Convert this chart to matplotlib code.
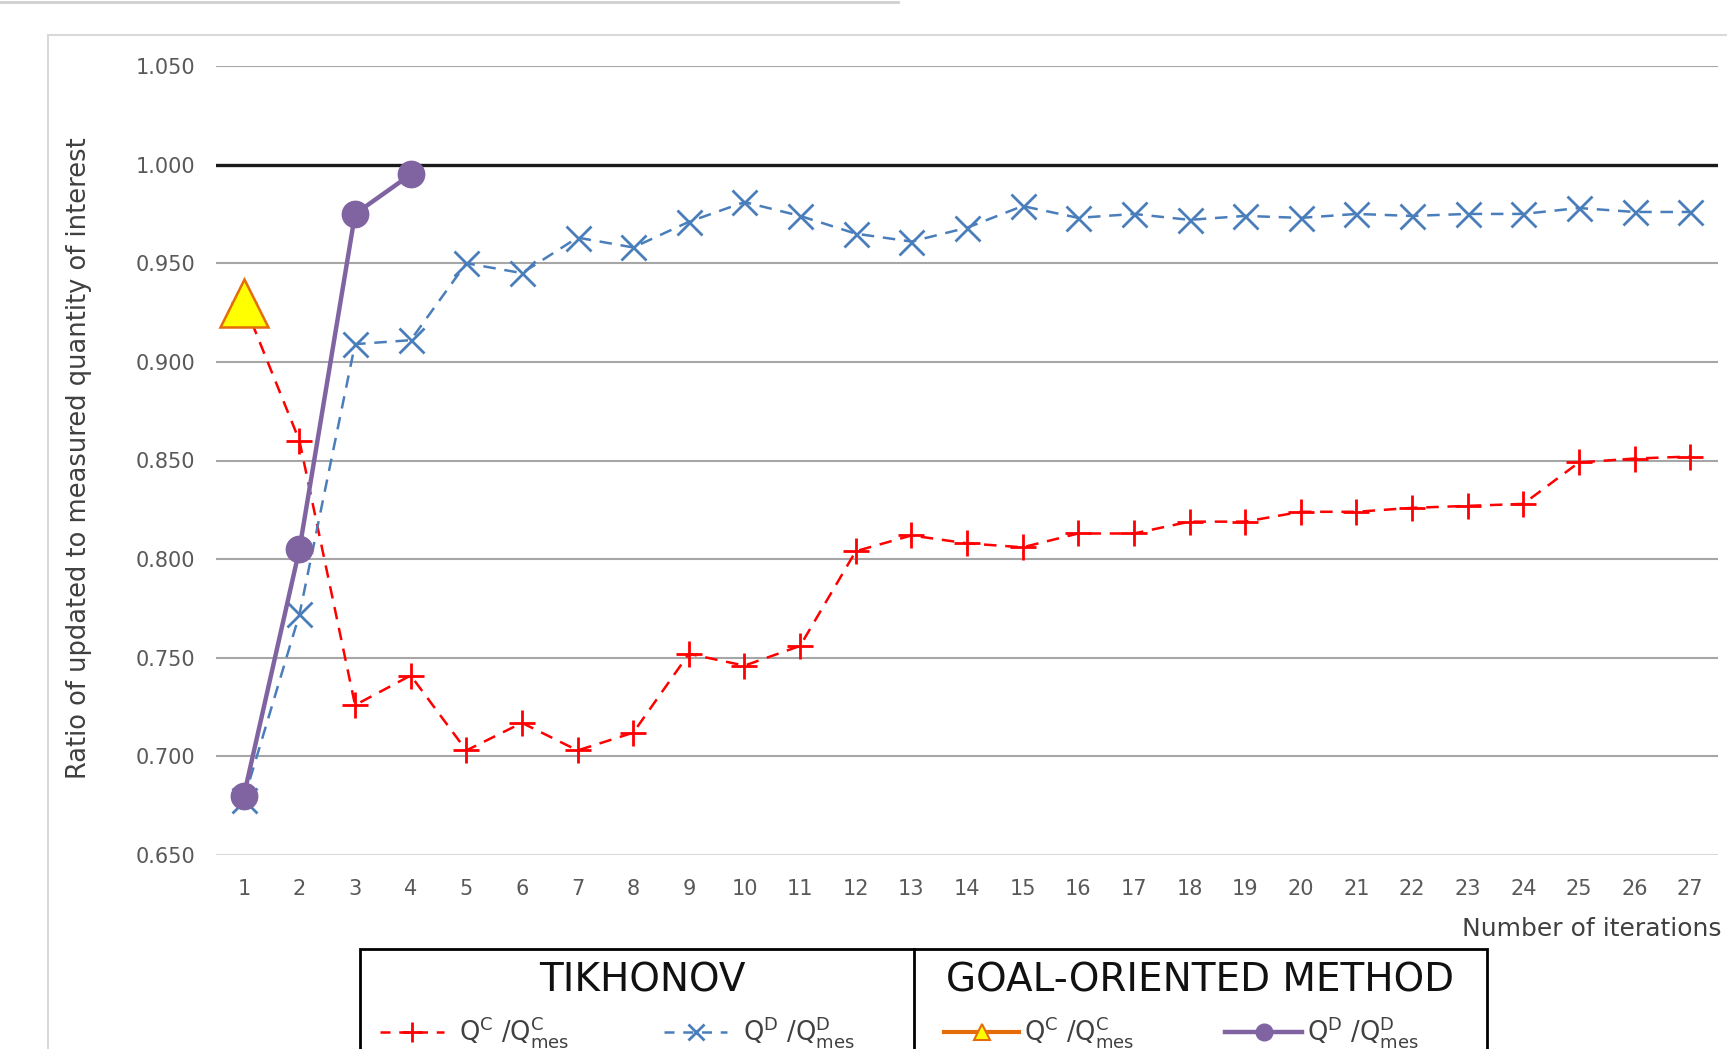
import matplotlib
matplotlib.use("Agg")
import matplotlib.pyplot as plt
from matplotlib.lines import Line2D
from matplotlib.patches import Rectangle

W, H = 1727, 1049

iterations = list(range(1, 28))
tik_qc = [0.930, 0.860, 0.726, 0.741, 0.703, 0.717, 0.703, 0.712, 0.752, 0.746,
          0.756, 0.804, 0.812, 0.808, 0.806, 0.813, 0.813, 0.819, 0.819, 0.824,
          0.824, 0.826, 0.827, 0.828, 0.849, 0.851, 0.852]
tik_qd = [0.678, 0.772, 0.909, 0.911, 0.950, 0.945, 0.963, 0.958, 0.971, 0.981,
          0.974, 0.965, 0.961, 0.968, 0.979, 0.973, 0.975, 0.972, 0.974, 0.973,
          0.975, 0.974, 0.975, 0.975, 0.978, 0.976, 0.976]
goal_iter_c = [1]
goal_qc = [0.930]
goal_iter_d = [1, 2, 3, 4]
goal_qd = [0.680, 0.805, 0.975, 0.995]
yticks = [0.650, 0.700, 0.750, 0.800, 0.850, 0.900, 0.950, 1.000, 1.050]
ytick_labels = ["0.650", "0.700", "0.750", "0.800", "0.850", "0.900", "0.950", "1.000", "1.050"]
ylabel = "Ratio of updated to measured quantity of interest"
xlabel = "Number of iterations"
group_titles = ["TIKHONOV", "GOAL-ORIENTED METHOD"]

RED = "#FF0000"
BLUE = "#4A7EBB"
ORANGE = "#E46C0A"
PURPLE = "#8064A2"
TXT = "#404040"


def fx(x):
    return x / W


def fy(y):
    return 1 - y / H


fig = plt.figure(figsize=(W / 100, H / 100), dpi=100)
fig.patch.set_facecolor("white")

# outer frame / screenshot artefacts
fig.add_artist(Line2D([fx(0), fx(898)], [fy(1.5), fy(1.5)], color="#D0D0D0", lw=2,
                      transform=fig.transFigure))
fig.add_artist(Rectangle((fx(48), -0.05), 1.2, fy(35) + 0.05, fill=False,
                         edgecolor="#D9D9D9", lw=1.5, transform=fig.transFigure))

ax = fig.add_axes([fx(216), fy(855), fx(1718) - fx(216), fy(66) - fy(855)])
ax.set_xlim(0.5, 27.5)
ax.set_ylim(0.650, 1.050)
for s in ax.spines.values():
    s.set_visible(False)

grid_colors = ["#D9D9D9"] + ["#A6A6A6"] * 6 + ["#1A1A1A", "#A6A6A6"]
grid_lw = [1.5] * 7 + [2.4, 1.5]
for v, c, lw in zip(yticks, grid_colors, grid_lw):
    ax.axhline(v, color=c, lw=lw, zorder=1)

ax.set_yticks(yticks)
ax.set_yticklabels(ytick_labels)
ax.set_xticks(iterations)
ax.set_xticklabels([str(i) for i in iterations])
ax.tick_params(axis="both", length=0, labelsize=15, labelcolor="#595959")
ax.tick_params(axis="y", pad=15)
ax.tick_params(axis="x", pad=17)

ax.plot(iterations, tik_qc, color=RED, lw=1.8, dashes=(5, 3.5), marker="+",
        markersize=19, mew=2, zorder=3)
ax.plot(iterations, tik_qd, color=BLUE, lw=1.8, dashes=(5, 3.5), marker="x",
        markersize=18, mew=2, zorder=3)
ax.plot(goal_iter_c, goal_qc, color=ORANGE, lw=3, marker="^", markersize=34,
        markerfacecolor="#FFFF00", markeredgecolor=ORANGE, mew=1.8, zorder=5)
ax.plot(goal_iter_d, goal_qd, color=PURPLE, lw=3.2, marker="o", markersize=19,
        zorder=4)

fig.text(fx(79), fy(458), ylabel, rotation=90, ha="center", va="center",
         fontsize=18.5, color=TXT)
fig.text(fx(1462), fy(929), xlabel, ha="left", va="center", fontsize=18,
         color=TXT)

# legend table
fig.add_artist(Rectangle((fx(360), -0.05), fx(1487) - fx(360), fy(949) + 0.05,
                         fill=False, edgecolor="black", lw=2, transform=fig.transFigure))
fig.add_artist(Line2D([fx(914), fx(914)], [fy(949), -0.05], color="black", lw=2,
                      transform=fig.transFigure))
fig.text(fx(642), fy(981), group_titles[0], ha="center", va="center", fontsize=28,
         color="#111111")
fig.text(fx(1200), fy(981), group_titles[1], ha="center", va="center", fontsize=28,
         color="#111111")

lbl_c = r"Q$^{\mathregular{C}}$ /Q$^{\mathregular{C}}_{\mathregular{mes}}$"
lbl_d = r"Q$^{\mathregular{D}}$ /Q$^{\mathregular{D}}_{\mathregular{mes}}$"
ly = fy(1032)
entries = [
    (380, 444, 459, RED, (4, 3.5), "+", 14, dict(mew=2), 1.8, lbl_c),
    (664, 727, 743, BLUE, (4, 3.5), "x", 11, dict(mew=2), 1.8, lbl_d),
    (944, 1019, 1024, ORANGE, None, "^", 12,
     dict(markerfacecolor="#FFFF00", markeredgecolor=ORANGE, mew=1.5), 3, lbl_c),
    (1225, 1302, 1307, PURPLE, None, "o", 12, dict(), 3.2, lbl_d),
]
for x0, x1, xt, col, dsh, mk, ms, kw, lw, lbl in entries:
    ln = Line2D([fx(x0), fx(x1)], [ly, ly], color=col, lw=lw, transform=fig.transFigure)
    if dsh:
        ln.set_dashes(dsh)
    fig.add_artist(ln)
    fig.add_artist(Line2D([(fx(x0) + fx(x1)) / 2], [ly], color=col, marker=mk,
                          markersize=ms, lw=0, transform=fig.transFigure, **kw))
    fig.text(fx(xt), fy(1040), lbl, ha="left", va="baseline", fontsize=18.5, color=TXT)

fig.savefig("out.png", dpi=100)
